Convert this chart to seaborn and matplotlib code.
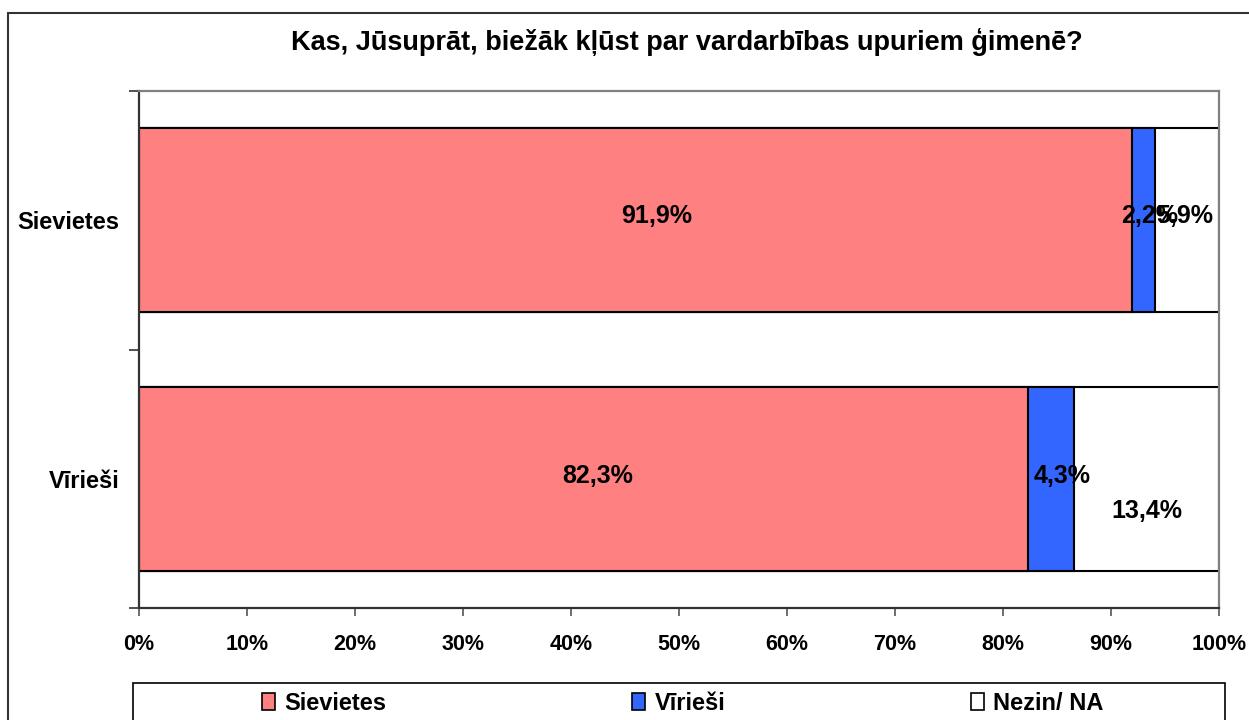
import matplotlib
matplotlib.use("Agg")
import matplotlib.pyplot as plt
from matplotlib.patches import Patch, Rectangle
from matplotlib.lines import Line2D
import seaborn as sns
import pandas as pd

# --- data ---
groups = ["Sievietes", "Vīrieši"]
answers = ["Sievietes", "Vīrieši", "Nezin/ NA"]
sievietes = [91.9, 82.3]
virieši = [2.2, 4.3]
nezin = [5.9, 13.4]
title = "Kas, Jūsuprāt, biežāk kļūst par vardarbības upuriem ģimenē?"

colors = ["#FF8080", "#3366FF", "#FFFFFF"]
# small nudges of the value labels, like the original
label_dx = [[2.0, 0.6, -0.2], [1.3, 1.0, 0.0]]
label_dy = [[-0.015, -0.015, -0.015], [-0.01, -0.01, 0.125]]

df = pd.DataFrame({"group": groups, "Sievietes": sievietes,
                   "Vīrieši": virieši, "Nezin/ NA": nezin})
df["c1"] = df["Sievietes"]
df["c2"] = df["c1"] + df["Vīrieši"]
df["c3"] = df["c2"] + df["Nezin/ NA"]

sns.set_theme(style="white")
plt.rcParams["font.family"] = ["Liberation Sans", "DejaVu Sans"]
plt.rcParams["font.weight"] = "bold"
plt.rcParams["text.color"] = "black"
plt.rcParams["xtick.color"] = "black"
plt.rcParams["ytick.color"] = "black"

fig = plt.figure(figsize=(12.49, 7.2), dpi=100)
ax = fig.add_axes([139 / 1249, 112 / 720, 1080 / 1249, 517 / 720])

# stacked bars: draw cumulative totals from largest to smallest
for col, c in zip(["c3", "c2", "c1"], colors[::-1]):
    sns.barplot(data=df, y="group", x=col, orient="h", color=c, saturation=1,
                width=0.71, edgecolor="black", linewidth=1.5, ax=ax)

# value labels
for i, row in df.iterrows():
    left = 0
    for j, ans in enumerate(answers):
        v = row[ans]
        txt = f"{v:.1f}%".replace(".", ",")
        ax.text(left + v / 2 + label_dx[i][j], i + label_dy[i][j], txt,
                ha="center", va="center", fontsize=18, fontweight="bold", color="black")
        left += v

ax.set_xlim(0, 100)
ax.set_ylim(1.5, -0.5)
ax.set_xticks(range(0, 101, 10))
ax.set_xticklabels([f"{t}%" for t in range(0, 101, 10)], fontsize=15.5, fontweight="bold")
ax.set_yticks([0, 1])
ax.set_yticklabels(groups, fontsize=17, fontweight="bold")
ax.set_yticks([-0.5, 0.5, 1.5], minor=True)
ax.tick_params(axis="y", which="major", length=0, pad=14)
ax.tick_params(axis="y", which="minor", length=7, width=1.2, color="#333333", left=True, direction="out")
ax.tick_params(axis="x", length=6, width=1.2, color="#555555", bottom=True, direction="out", pad=13)
ax.set_xlabel("")
ax.set_ylabel("")

for side in ["left", "bottom"]:
    ax.spines[side].set_color("#333333")
    ax.spines[side].set_linewidth(1.6)
for side in ["top", "right"]:
    ax.spines[side].set_color("#808080")
    ax.spines[side].set_linewidth(1.6)

fig.text(687 / 1249, 1 - 42 / 720, title, ha="center", va="center",
         fontsize=19.5, fontweight="bold", color="black")

# legend with a box running off the bottom edge
handles = [Patch(facecolor=c, edgecolor="black", linewidth=1.2) for c in colors]
fig.legend(handles, answers, loc="center", bbox_to_anchor=(683 / 1249, 1 - 703 / 720),
           ncol=3, frameon=False, handlelength=0.55, handleheight=0.75,
           handletextpad=0.4, columnspacing=10.4, prop={"weight": "bold", "size": 17})
fig.patches.append(Rectangle((133 / 1249, -0.05), 1092 / 1249, 0.05 + 37 / 720,
                             transform=fig.transFigure, facecolor="none",
                             edgecolor="black", linewidth=1.2))

# outer chart border (top and left visible)
fig.lines.append(Line2D([8 / 1249, 1.0], [1 - 13 / 720, 1 - 13 / 720],
                        transform=fig.transFigure, color="#333333", linewidth=1.5))
fig.lines.append(Line2D([8 / 1249, 8 / 1249], [0, 1 - 13 / 720],
                        transform=fig.transFigure, color="#333333", linewidth=1.5))

fig.savefig("out.png", dpi=100)
